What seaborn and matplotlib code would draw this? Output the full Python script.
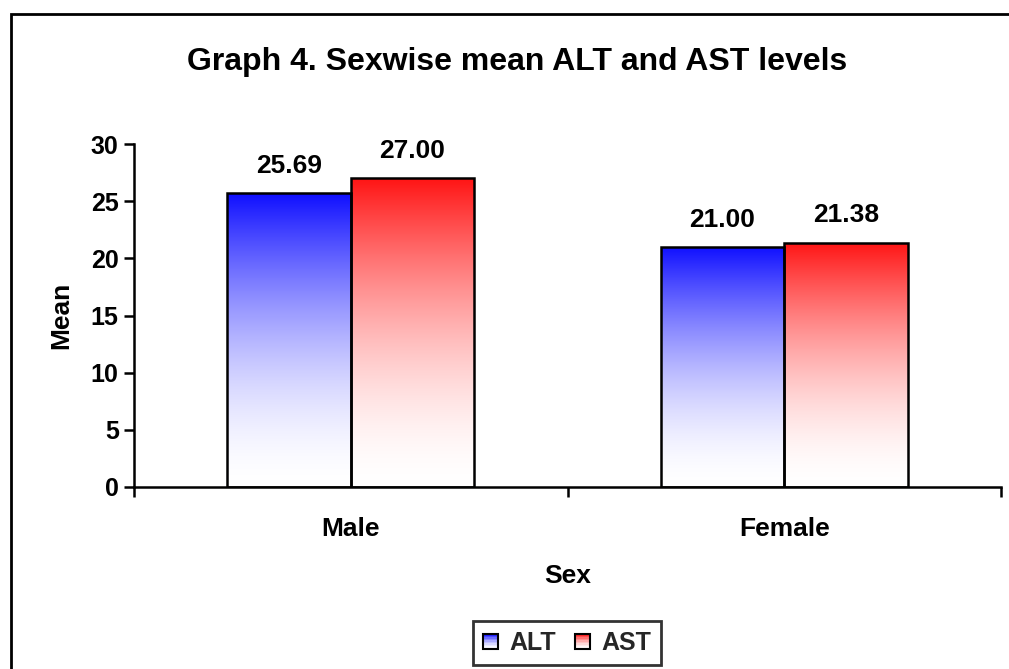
import numpy as np
import pandas as pd
import matplotlib
matplotlib.use("Agg")
import matplotlib.pyplot as plt
import seaborn as sns
from matplotlib.patches import Rectangle
from matplotlib.legend_handler import HandlerBase
from matplotlib.colors import LinearSegmentedColormap

# Data
sexes = ["Male", "Female"]
alt_means = [25.69, 21.00]
ast_means = [27.00, 21.38]
series_names = ["ALT", "AST"]
y_ticks = [0, 5, 10, 15, 20, 25, 30]

df = pd.DataFrame({
    "Sex": sexes * 2,
    "Mean": alt_means + ast_means,
    "Test": [series_names[0]] * len(sexes) + [series_names[1]] * len(sexes),
})

top_colors = {"ALT": (0.06, 0.06, 1.0), "AST": (1.0, 0.08, 0.08)}


def fade_cmap(name, top, gamma=1.7, n=64):
    # white at the bottom, full colour at the top, easing in toward the top
    t = np.linspace(0, 1, n)
    w = t ** gamma
    cols = [tuple(1 + (c - 1) * wi for c in top) for wi in w]
    return LinearSegmentedColormap.from_list(name, list(zip(t, cols)))


cmaps = {k: fade_cmap(k, c) for k, c in top_colors.items()}

sns.set_theme(style="white")
plt.rcParams["font.family"] = ["Liberation Sans", "DejaVu Sans"]
plt.rcParams["font.weight"] = "bold"

fig = plt.figure(figsize=(10.09, 6.69), dpi=100)
ax = fig.add_axes([134 / 1009, 1 - 487 / 669, (1001 - 134) / 1009, (487 - 144) / 669])

sns.barplot(data=df, x="Sex", y="Mean", hue="Test", order=sexes,
            hue_order=series_names, width=0.57, ax=ax, legend=False,
            edgecolor="black", linewidth=1.8, saturation=1)

ax.set_xlim(-0.5, 1.5)
ax.set_ylim(0, 30)

# gradient fills clipped to each bar
grad = np.linspace(0, 1, 256).reshape(-1, 1)
bars = [p for p in ax.patches if isinstance(p, Rectangle)]
for i, bar in enumerate(bars):
    name = series_names[i // len(sexes)]
    x0, y0 = bar.get_x(), bar.get_y()
    w, h = bar.get_width(), bar.get_height()
    im = ax.imshow(grad, extent=[x0, x0 + w, y0, y0 + h], origin="lower",
                   cmap=cmaps[name], aspect="auto", zorder=bar.get_zorder() - 0.1,
                   interpolation="bilinear")
    im.set_clip_path(bar)
    bar.set_facecolor("none")
    ax.annotate(f"{h:.2f}", (x0 + w / 2, h), xytext=(0, 14.5), textcoords="offset points",
                ha="center", va="baseline", fontsize=19, fontweight="bold", color="black")

ax.set_xlim(-0.5, 1.5)
ax.set_ylim(0, 30)

# axes styling
for s in ["top", "right"]:
    ax.spines[s].set_visible(False)
for s in ["left", "bottom"]:
    ax.spines[s].set_color("black")
    ax.spines[s].set_linewidth(1.8)

ax.set_yticks(y_ticks)
ax.tick_params(axis="y", which="major", direction="out", length=7, width=1.8,
               color="black", labelsize=18, pad=4, left=True)
ax.set_xticks(range(len(sexes)))
ax.set_xticklabels(sexes)
ax.set_xticks([-0.5, 0.5, 1.5], minor=True)
ax.tick_params(axis="x", which="major", length=0, labelsize=19, pad=21.5)
ax.tick_params(axis="x", which="minor", direction="out", length=7, width=1.8,
               color="black", bottom=True)
for lbl in ax.get_xticklabels() + ax.get_yticklabels():
    lbl.set_fontweight("bold")
    lbl.set_color("black")

ax.set_xlabel("Sex", fontsize=19, fontweight="bold", color="black", labelpad=17)
ax.set_ylabel("Mean", fontsize=19, fontweight="bold", color="black", labelpad=12.5)

fig.text(517 / 1009, 1 - 70 / 669, "Graph 4. Sexwise mean ALT and AST levels",
         ha="center", va="baseline", fontsize=23, fontweight="bold", color="black")


class GradientHandler(HandlerBase):
    def __init__(self, cmap):
        super().__init__()
        self.cmap = cmap

    def create_artists(self, legend, orig_handle, xdescent, ydescent, width, height, fontsize, trans):
        artists = []
        n = 10
        side = min(width, height)
        x = xdescent + width - side
        for k in range(n):
            frac = (k + 0.5) / n
            artists.append(Rectangle((x, -ydescent + side * k / n), side, side / n,
                                     facecolor=self.cmap(frac), edgecolor="none",
                                     transform=trans))
        artists.append(Rectangle((x, -ydescent), side, side, facecolor="none",
                                 edgecolor="black", linewidth=1.5, transform=trans))
        return artists


handles = [Rectangle((0, 0), 1, 1) for _ in series_names]
leg = fig.legend(handles, series_names, loc="center", bbox_to_anchor=(567 / 1009, 1 - 643 / 669),
                 ncol=2, frameon=True, fancybox=False, edgecolor="black",
                 prop={"size": 18, "weight": "bold"}, handlelength=0.6, handleheight=0.6,
                 handletextpad=0.45, columnspacing=0.75, borderpad=0.4, borderaxespad=0,
                 handler_map={h: GradientHandler(cmaps[n]) for h, n in zip(handles, series_names)})
leg.get_frame().set_linewidth(2)

# chart border
fig.patches.append(Rectangle((11 / 1009, -0.1), 1.2, 1 - 14 / 669 + 0.1, transform=fig.transFigure,
                             fill=False, edgecolor="black", linewidth=2, zorder=10))

fig.savefig("out.png", dpi=100)
